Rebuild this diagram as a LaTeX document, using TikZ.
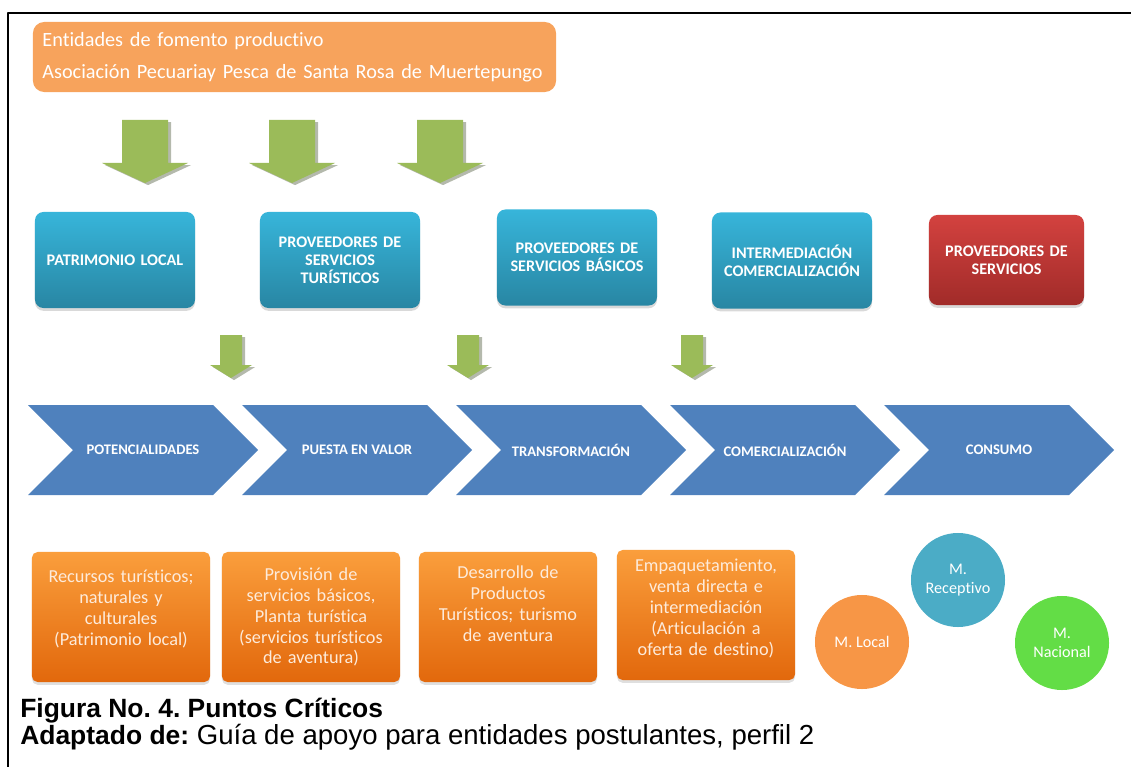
\documentclass[tikz,border=0pt]{standalone}
\usepackage{fontspec}
\setmainfont{Liberation Sans}
\newfontfamily\calibri[Ligatures=NoCommon]{Carlito}
\usetikzlibrary{shadows}
\frenchspacing
\definecolor{durazno}{HTML}{F7A35C}
\definecolor{verde}{HTML}{9BBB59}
\definecolor{sombra}{HTML}{B4B9AC}
\definecolor{celeste1}{HTML}{37B5DA}
\definecolor{celeste2}{HTML}{2886A3}
\definecolor{rojo1}{HTML}{D3423F}
\definecolor{rojo2}{HTML}{A12B29}
\definecolor{azul}{HTML}{4F81BD}
\definecolor{naranja1}{HTML}{FA9E3C}
\definecolor{naranja2}{HTML}{E2680C}
\definecolor{crema}{HTML}{FDEBDB}
\definecolor{mlocal}{HTML}{F79646}
\definecolor{mreceptivo}{HTML}{4BACC6}
\definecolor{mnacional}{HTML}{63DD46}
\tikzset{
  entidad/.style={fill=durazno, rounded corners=8pt, minimum width=13.075cm, minimum height=1.75cm,
    text width=12.6cm, align=left, text=white, font=\calibri\fontsize{14.4}{22.7}\selectfont},
  actor/.style={rounded corners=6pt, top color=celeste1, bottom color=celeste2, minimum width=4cm,
    minimum height=2.4cm, text width=3.6cm, align=center, text=white,
    font=\calibri\bfseries\fontsize{11.5}{12.8}\selectfont,
    drop shadow={shadow xshift=0pt, shadow yshift=-2pt, opacity=.3}},
  etapa/.style={fill=azul},
  etapatexto/.style={text=white, font=\calibri\bfseries\fontsize{10.4}{12}\selectfont},
  punto/.style={rounded corners=4pt, top color=naranja1, bottom color=naranja2, minimum width=4.45cm,
    minimum height=3.25cm, drop shadow={shadow xshift=0pt, shadow yshift=-2pt, opacity=.25}},
  puntotexto/.style={text width=4.1cm, align=center, text=crema, font=\calibri\fontsize{13}{14.9}\selectfont},
  mercado/.style={circle, minimum size=2.35cm, text=white, align=center, inner sep=0pt,
    font=\calibri\fontsize{11.5}{14}\selectfont}
}
\begin{document}
\begin{tikzpicture}[x=0.025cm, y=-0.025cm, line join=round]
\useasboundingbox (0,0) rectangle (1131,767);
% marco
\draw[line width=1.6pt] (8,767) -- (8,13) -- (1131,13);

% entidades de fomento
\node[entidad] (fomento) at (294.5,57) {Entidades de fomento productivo\\Asociación Pecuariay Pesca de Santa Rosa de Muertepungo};

% flechas verdes
\foreach \x/\s/\h/\a/\b/\c in {145/23/43/120/163/183, 292/23/43/120/163/183, 440/23/43/120/163/183,
  231/11/21/335/365/378, 468/11/21/335/365/378, 692/11/21/335/365/378}
  \foreach \d/\col in {3/sombra, 0/verde}
    \fill[\col, shift={(\d,\d*0.7)}] ({\x-\s},\a) -- ({\x+\s},\a) -- ({\x+\s},\b) -- ({\x+\h},\b)
      -- (\x,\c) -- ({\x-\h},\b) -- ({\x-\s},\b) -- cycle;

% actores
\foreach \n/\x/\y/\t in {patrimonio/115/260/{PATRIMONIO LOCAL},
  turisticos/340/260/{PROVEEDORES DE\\SERVICIOS\\TURÍSTICOS},
  basicos/577/257.5/{PROVEEDORES DE\\SERVICIOS BÁSICOS},
  intermediacion/792/260.5/{INTERMEDIACIÓN\\COMERCIALIZACIÓN}}
  \node[actor] (\n) at (\x,\y) {\t};
\node[actor, top color=rojo1, bottom color=rojo2, minimum width=3.875cm, minimum height=2.25cm]
  (servicios) at (1006.5,260) {PROVEEDORES DE\\SERVICIOS};

% cadena de valor
\foreach \t [count=\i from 0] in {POTENCIALIDADES, PUESTA EN VALOR, TRANSFORMACIÓN, COMERCIALIZACIÓN, CONSUMO}{
  \pgfmathsetmacro\xa{28+214*\i}
  \fill[etapa] (\xa,405) -- ({\xa+185},405) -- ({\xa+230},450) -- ({\xa+185},495) -- (\xa,495)
    -- ({\xa+45},450) -- cycle;
  \node[etapatexto] (etapa\i) at ({\xa+115},450) {\t};
}

% puntos criticos
\foreach \n/\x/\y/\dy/\t in {recursos/121/617/6/{Recursos turísticos;\\naturales y\\culturales\\(Patrimonio local)},
  provision/311/617/0/{Provisión de\\servicios básicos,\\Planta turística\\(servicios turísticos\\de aventura)},
  desarrollo/508/617/9.5/{Desarrollo de\\Productos\\Turísticos; turismo\\de aventura},
  empaquetamiento/706/615/4.5/{Empaquetamiento,\\venta directa e\\intermediación\\(Articulación a\\oferta de destino)}}{
  \node[punto] (\n) at (\x,\y) {};
  \node[puntotexto] (\n texto) at ([yshift=\dy pt]\n.center) {\t};
}

% mercados
\node[mercado, fill=mlocal] (local) at (862,642) {M. Local};
\node[mercado, fill=mreceptivo] (receptivo) at (958,580) {M.\\Receptivo};
\node[mercado, fill=mnacional] (nacional) at (1062,643) {M.\\Nacional};

% pie
\node[anchor=base west, inner sep=0pt, font=\rmfamily\bfseries\fontsize{18.8}{22}\selectfont] (figura) at (20,717) {Figura No. 4. Puntos Críticos};
\node[anchor=base west, inner sep=0pt, font=\rmfamily\fontsize{19.6}{22}\selectfont] (fuente) at (20,744) {{\fontsize{18.8}{22}\selectfont\bfseries Adaptado de:} Guía de apoyo para entidades postulantes, perfil 2};
\end{tikzpicture}
\end{document}
